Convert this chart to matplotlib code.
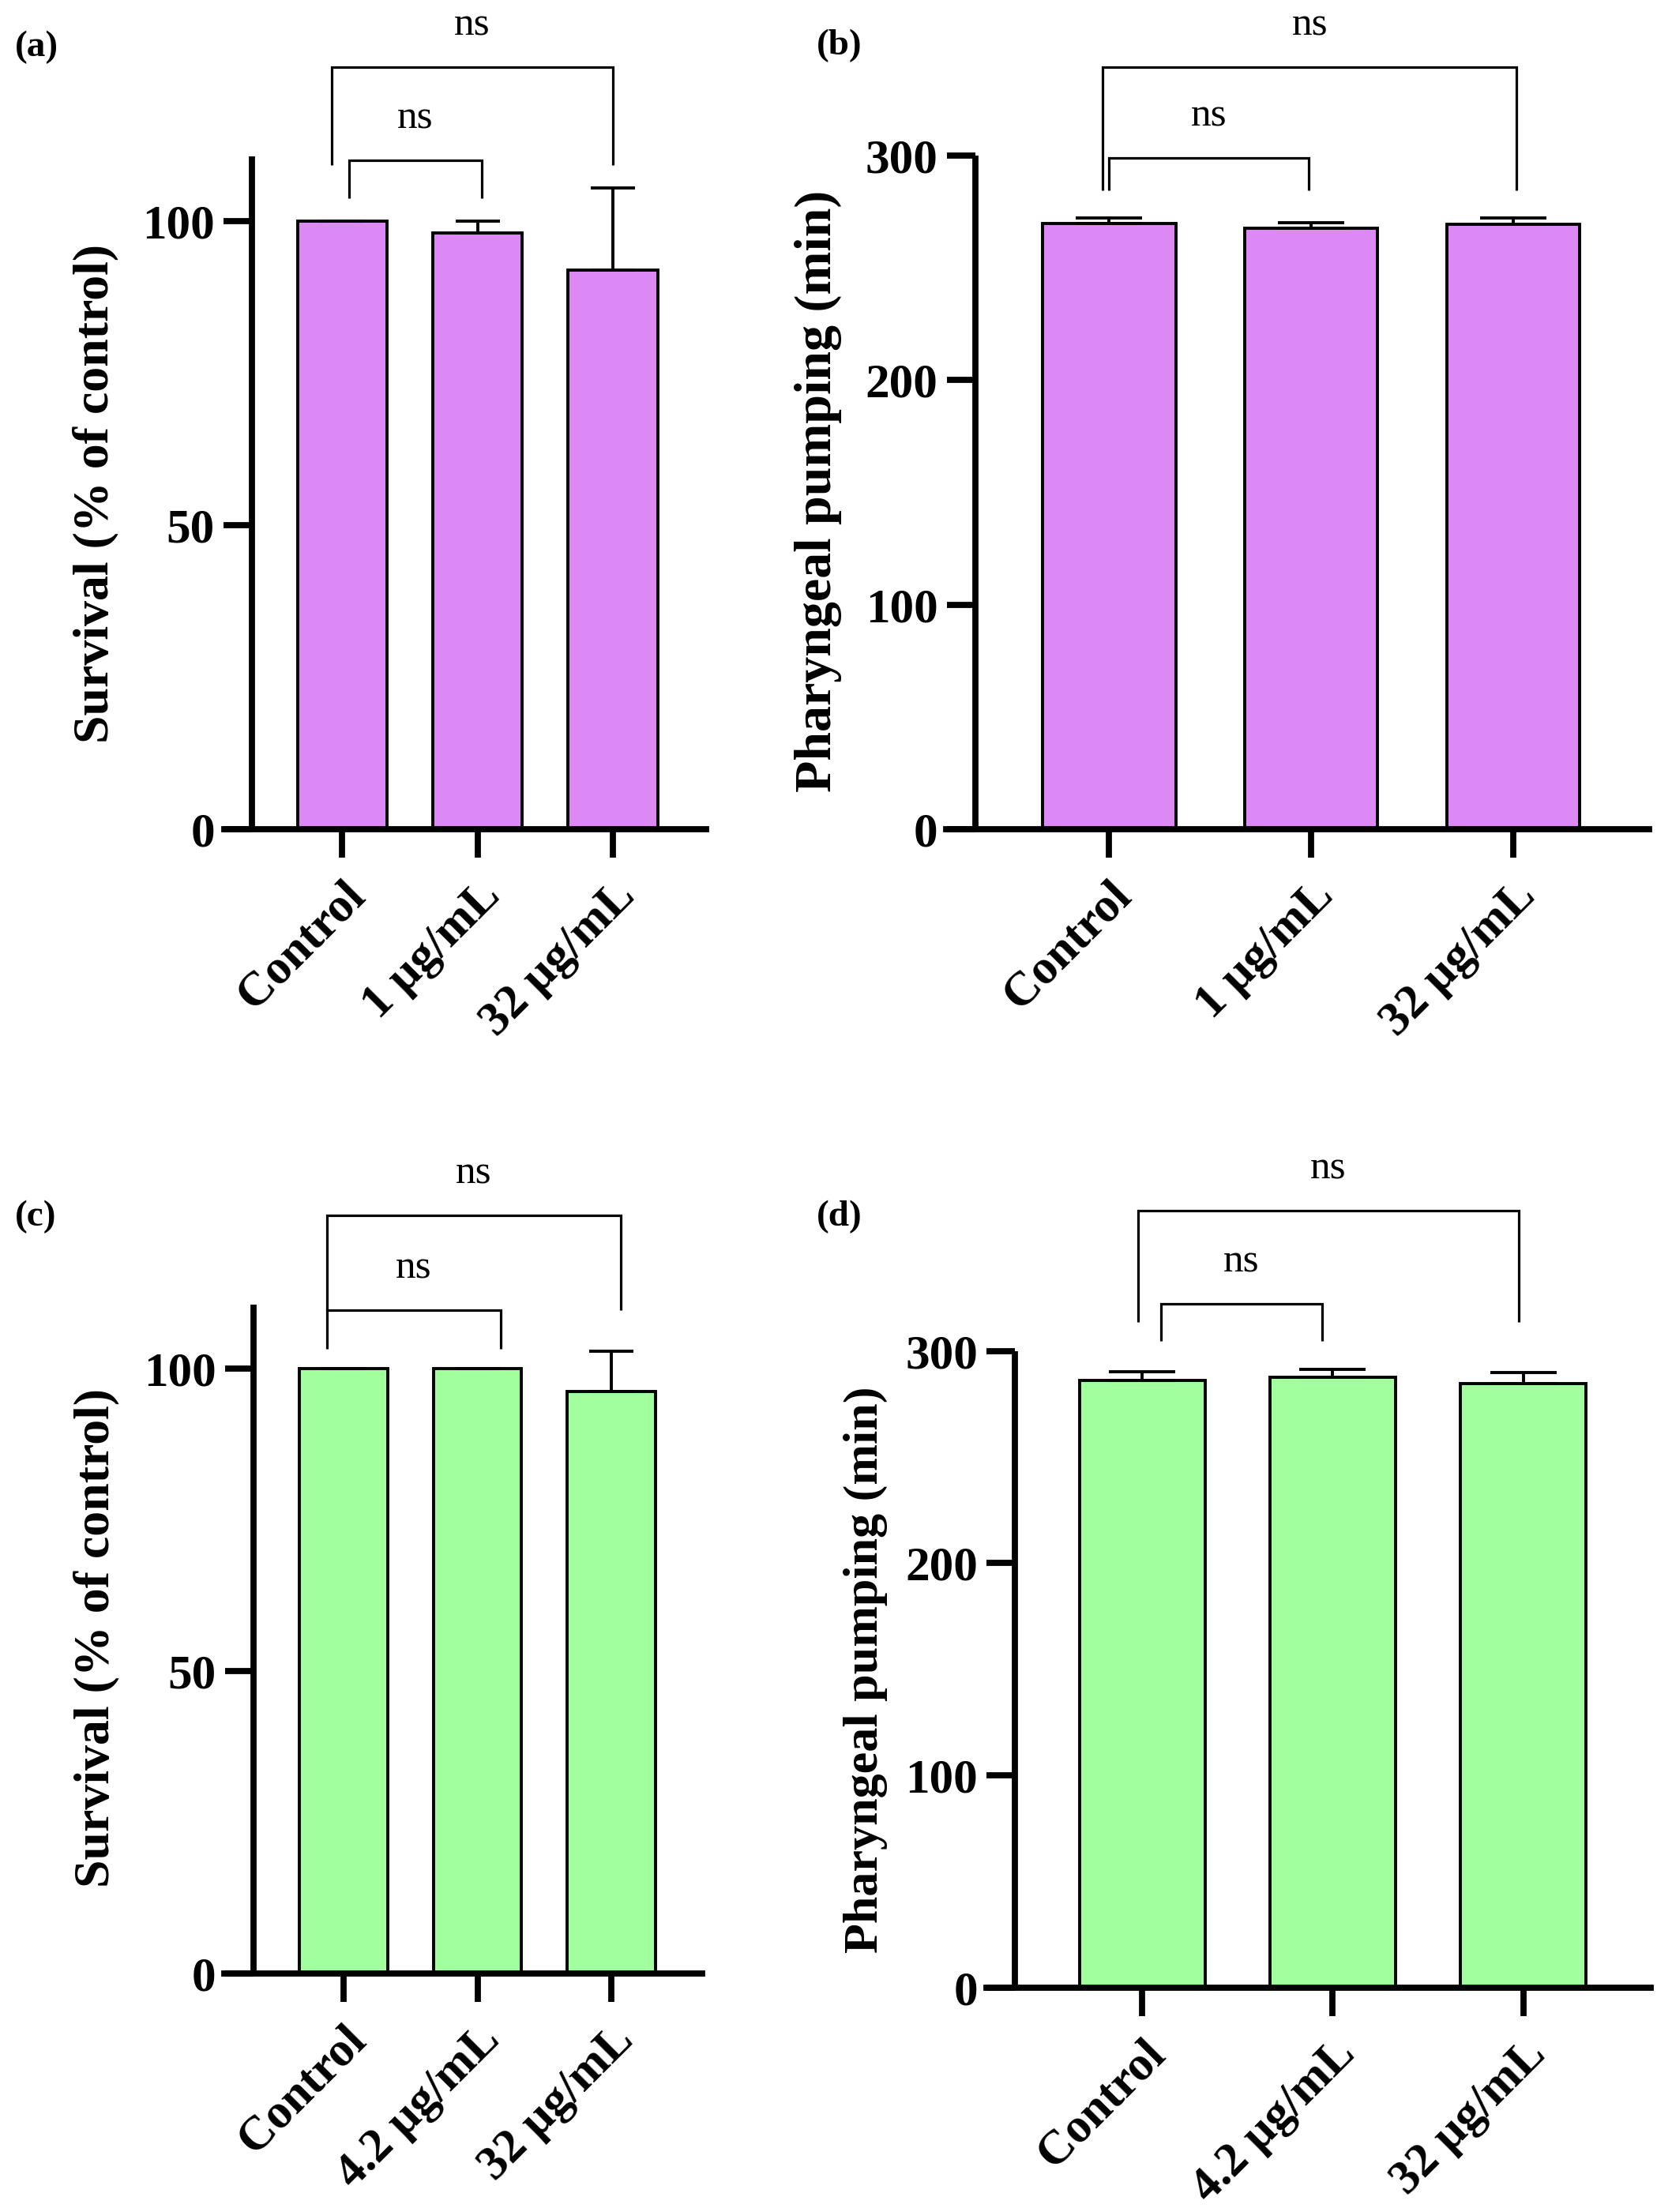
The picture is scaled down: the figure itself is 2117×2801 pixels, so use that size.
import matplotlib
matplotlib.use("Agg")
import matplotlib.pyplot as plt

# ---------------- data ----------------
cats_ab = ["Control", "1 µg/mL", "32 µg/mL"]
cats_cd = ["Control", "4.2 µg/mL", "32 µg/mL"]

a_vals = [100.0, 98.0, 92.0]
a_err = [0.0, 2.0, 13.5]
b_vals = [269.6, 267.5, 269.2]
b_err = [2.6, 2.5, 2.8]
c_vals = [100.0, 100.0, 96.2]
c_err = [0.0, 0.0, 6.7]
d_vals = [286.0, 287.4, 284.4]
d_err = [4.3, 3.9, 5.3]

survival_ticks = [0, 50, 100]
pumping_ticks = [0, 100, 200, 300]

sig_labels = ["ns", "ns"]

# ---------------- style ----------------
W, H = 2117, 2801
DPI = 100
FONT = ["Liberation Serif", "DejaVu Serif"]
PURPLE = "#DD89F5"
GREEN = "#A2FF9E"
SPINE_LW = 5.6
BAR_LW = 2.8
ERR_LW = 2.8
BR_LW = 2.3
TICK_FS = 44

plt.rcParams["font.family"] = FONT

fig = plt.figure(figsize=(W / DPI, H / DPI), dpi=DPI)
fig.patch.set_facecolor("white")


def panel(geom, xlim, spine_x, ylim, cats, vals, errs, ticks, color,
          capsize, brackets, ylabel, ylab_xy, ylab_size, letter, letter_xy):
    left, right, top, bottom = geom
    ax = fig.add_axes([left / W, 1 - bottom / H, (right - left) / W, (bottom - top) / H])
    ax.set_xlim(*xlim)
    ax.set_ylim(*ylim)
    x = list(range(len(cats)))
    ax.bar(x, vals, width=0.66, color=color, edgecolor="black",
           linewidth=BAR_LW, zorder=2)
    ax.errorbar(x, vals, yerr=[[0] * len(errs), errs], fmt="none",
                ecolor="black", elinewidth=ERR_LW, capsize=capsize,
                capthick=ERR_LW, zorder=3)
    for s in ["top", "right"]:
        ax.spines[s].set_visible(False)
    ax.spines["left"].set_position(("data", spine_x))
    ax.spines["left"].set_linewidth(SPINE_LW)
    ax.spines["bottom"].set_linewidth(SPINE_LW)
    ax.spines["left"].set_capstyle("butt")
    ax.set_yticks(ticks)
    ax.set_yticklabels([str(t) for t in ticks], fontsize=TICK_FS, fontweight="bold")
    ax.set_xticks(x)
    ax.set_xticklabels(cats, fontsize=TICK_FS, fontweight="bold", rotation=45,
                       ha="right", va="top", rotation_mode="anchor")
    ax.tick_params(axis="both", direction="out", length=26, width=SPINE_LW)
    ax.tick_params(axis="y", pad=8)
    ax.tick_params(axis="x", pad=14)
    ax.patch.set_alpha(0)

    for (x1, x2, ytop, yl1, yl2), lab in zip(brackets, sig_labels):
        ax.plot([x1, x1, x2, x2], [yl1, ytop, ytop, yl2], color="black",
                lw=BR_LW, clip_on=False, solid_joinstyle="miter",
                solid_capstyle="butt", zorder=4)
        ax.annotate(lab, xy=((x1 + x2) / 2, ytop), xytext=(0, 38),
                    textcoords="offset points", ha="center", va="center",
                    fontsize=37, annotation_clip=False)

    fig.text(ylab_xy[0] / W, 1 - ylab_xy[1] / H, ylabel, rotation=90,
             ha="center", va="center", fontsize=ylab_size, fontweight="bold")
    fig.text(letter_xy[0] / W, 1 - letter_xy[1] / H, letter, ha="left",
             va="center", fontsize=34, fontweight="bold")
    return ax


panel((283.6, 893.5, 198.3, 1050), (-0.872, 2.685), -0.664, (0, 110.6),
      cats_ab, a_vals, a_err, survival_ticks, PURPLE, 20,
      [(0.05, 1.03, 110.0, 103.8, 103.8), (-0.079, 1.997, 125.3, 109.2, 109.2)],
      "Survival (% of control)", (121, 625), 46, "(a)", (19, 60))

panel((1198, 2088, 196.7, 1050), (-0.805, 2.672), -0.662, (0, 300),
      cats_ab, b_vals, b_err, pumping_ticks, PURPLE, 30,
      [(0.0, 0.99, 298.9, 284.6, 284.6), (-0.03, 2.016, 339.3, 284.6, 284.6)],
      "Pharyngeal pumping (min)", (1036, 622), 47.5, "(b)", (1034, 58))

panel((284, 889, 1651.7, 2499), (-0.891, 2.678), -0.673, (0, 110.6),
      cats_cd, c_vals, c_err, survival_ticks, GREEN, 20,
      [(-0.125, 1.171, 109.6, 103.3, 103.3), (-0.125, 2.069, 125.3, 109.6, 109.6)],
      "Survival (% of control)", (122, 2074), 46, "(c)", (19, 1541))

panel((1249.3, 2089.7, 1710.5, 2517), (-0.816, 2.668), -0.666, (0, 300),
      cats_cd, d_vals, d_err, pumping_ticks, GREEN, 30,
      [(0.10, 0.943, 322.2, 304.8, 304.8), (-0.023, 1.975, 366.0, 313.6, 313.6)],
      "Pharyngeal pumping (min)", (1096, 2114), 44.7, "(d)", (1034, 1541))

fig.savefig("out.png", dpi=DPI, facecolor="white")
